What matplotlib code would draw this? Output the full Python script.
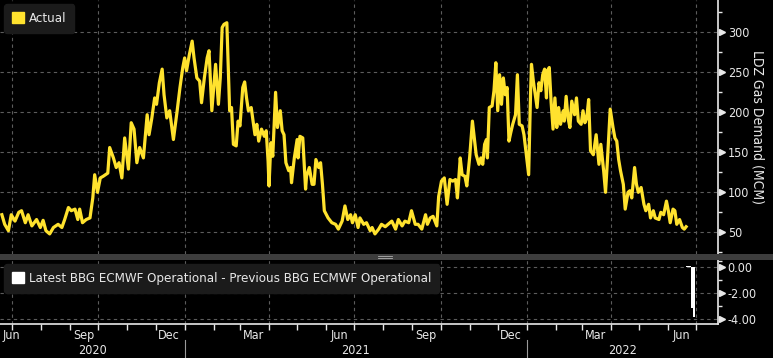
import pandas as pd
import matplotlib
matplotlib.use('Agg')
import matplotlib.pyplot as plt
import matplotlib.transforms as mtransforms
from matplotlib.patches import Patch, Rectangle
from matplotlib.lines import Line2D

plt.rcParams['font.family'] = ['DejaVu Sans']
plt.rcParams['font.stretch'] = 'condensed'

start = pd.Timestamp('2020-06-18')

# LDZ gas demand (MCM): day offset from start, value
demand_day = [2, 5, 9, 12, 16, 20, 23, 27, 30, 34, 39, 43, 46, 49, 53, 57, 62, 66, 69, 73,
              76, 80, 83, 85, 88, 92, 96, 99, 101, 104, 107, 110, 115, 117, 121, 124, 127, 130, 133, 137,
              140, 143, 146, 149, 153, 157, 159, 162, 165, 167, 170, 173, 175, 178, 181, 185, 189, 192, 195, 197,
              199, 202, 205, 207, 210, 213, 215, 218, 221, 223, 226, 228, 230, 233, 235, 237, 239, 242, 245, 247,
              249, 252, 254, 256, 259, 261, 263, 265, 268, 270, 272, 274, 276, 279, 282, 284, 286, 287, 289, 291,
              294, 296, 299, 301, 303, 305, 308, 310, 311, 314, 317, 318, 320, 323, 326, 327, 330, 333, 335, 337,
              340, 342, 344, 346, 350, 354, 358, 361, 365, 368, 371, 374, 376, 379, 382, 384, 388, 391, 395, 397,
              400, 404, 407, 411, 414, 418, 422, 425, 429, 432, 436, 439, 443, 446, 450, 454, 456, 459, 462, 466,
              468, 471, 474, 477, 480, 483, 486, 488, 491, 493, 496, 498, 501, 504, 506, 508, 511, 513, 515, 517,
              519, 520, 522, 525, 527, 529, 531, 533, 535, 537, 539, 541, 543, 545, 547, 550, 552, 554, 557, 559,
              561, 564, 566, 567, 569, 571, 573, 575, 577, 579, 581, 583, 584, 586, 588, 590, 592, 594, 596, 598,
              601, 602, 604, 606, 608, 610, 613, 615, 617, 620, 622, 624, 626, 628, 630, 633, 636, 639, 641, 644,
              646, 648, 651, 654, 656, 658, 660, 662, 665, 667, 670, 672, 674, 677, 679, 681, 684, 687, 689, 692,
              694, 697, 699, 703, 705, 708, 711, 713, 715, 718, 720, 722, 725, 728, 730, 732]
demand_mcm = [72, 60, 52, 72, 64, 75, 77, 62, 72, 58, 66, 56, 65, 52, 48, 56, 60, 56, 66, 81,
              77, 79, 66, 79, 62, 66, 68, 93, 122, 100, 118, 120, 124, 156, 143, 131, 137, 118, 168, 129,
              187, 179, 137, 156, 143, 197, 172, 193, 218, 210, 237, 254, 222, 193, 202, 166, 202, 231, 256, 268,
              252, 272, 289, 268, 243, 239, 212, 243, 268, 277, 202, 231, 260, 210, 243, 306, 310, 312, 202, 206,
              160, 158, 189, 183, 231, 238, 218, 202, 206, 189, 172, 185, 164, 179, 170, 177, 139, 108, 162, 145,
              225, 181, 202, 177, 172, 137, 127, 131, 112, 143, 166, 143, 170, 168, 104, 120, 131, 110, 110, 141,
              131, 137, 110, 77, 68, 62, 60, 54, 64, 83, 66, 72, 62, 72, 56, 68, 60, 62, 52, 56,
              48, 54, 60, 57, 60, 64, 54, 66, 58, 64, 62, 77, 60, 60, 54, 72, 60, 68, 70, 58,
              95, 114, 118, 85, 116, 114, 116, 93, 143, 122, 120, 108, 143, 189, 168, 147, 135, 143, 135, 160,
              166, 143, 206, 208, 227, 262, 202, 247, 210, 243, 222, 231, 164, 175, 185, 197, 247, 185, 183, 172,
              152, 122, 222, 260, 239, 222, 206, 237, 227, 247, 254, 218, 252, 256, 212, 179, 218, 181, 206, 185,
              202, 189, 220, 193, 181, 214, 197, 218, 189, 185, 202, 187, 193, 216, 152, 147, 172, 135, 160, 127,
              100, 139, 204, 181, 168, 164, 141, 127, 110, 79, 100, 102, 93, 131, 110, 100, 106, 85, 77, 85,
              68, 77, 68, 66, 75, 72, 89, 77, 62, 79, 77, 60, 66, 56, 54, 57]

# Latest minus previous BBG ECMWF Operational forecast
diff_day = [732, 733, 734, 735, 736, 737, 738, 739, 740]
diff_val = [0.1, 0.1, 0.1, 0.1, 0.1, -3.1, -3.1, -3.8, -3.8]

month_labels = ['Sep', 'Dec', 'Mar', 'Jun', 'Sep', 'Dec', 'Mar', 'Jun']
month_label_dates = ['2020-09-15', '2020-12-15', '2021-03-15', '2021-06-15',
                     '2021-09-15', '2021-12-15', '2022-03-15', '2022-06-15']
years = ['2020', '2021', '2022']

dates = start + pd.to_timedelta(demand_day, unit='D')
ddates = start + pd.to_timedelta(diff_day, unit='D')

W, H = 773, 358
fg = '#e8e8e8'
grid_kw = dict(color='#5c5c5c', lw=0.8, ls=(0, (3, 3)))
fig = plt.figure(figsize=(W / 100, H / 100), dpi=100, facecolor='black')
ax1 = fig.add_axes([0, 1 - 254 / H, 718 / W, 254 / H], facecolor='black')
ax2 = fig.add_axes([0, 1 - 324 / H, 718 / W, 64 / H], facecolor='black', sharex=ax1)

x0 = start
x1 = start + pd.Timedelta(days=766)
ax1.set_xlim(x0, x1)

ax1.plot(dates, demand_mcm, color='#ffe22e', lw=2.3, solid_joinstyle='round')
ax1.set_ylim(22.9, 340.4)
ax2.bar(ddates, diff_val, width=1.0, color='white', align='edge')
ax2.set_ylim(-4.36, 0.56)

quarters = pd.date_range('2020-07-01', '2022-07-01', freq='QS-JAN')
months = pd.date_range('2020-07-01', '2022-07-01', freq='MS')

for ax, yt, ymin in [(ax1, [50, 100, 150, 200, 250, 300], [25, 75, 125, 175, 225, 275, 325]),
                     (ax2, [0, -2, -4], [0.5, -1, -3])]:
    for s in ['top', 'left', 'bottom']:
        ax.spines[s].set_visible(False)
    ax.spines['right'].set_color(fg)
    ax.spines['right'].set_linewidth(1.2)
    ax.yaxis.tick_right()
    ax.set_yticks(yt)
    ax.set_yticks(ymin, minor=True)
    ax.tick_params(axis='y', which='major', length=0, pad=7, labelsize=9, colors=fg)
    ax.tick_params(axis='y', which='minor', length=3, width=1, colors=fg)
    for v in yt:
        ax.axhline(v, **grid_kw, zorder=0)
    for q in quarters:
        ax.axvline(q, **grid_kw, zorder=0)
    tr = ax.get_yaxis_transform() + mtransforms.ScaledTranslation(3 / 72, 0, fig.dpi_scale_trans)
    ax.plot([1] * len(yt), yt, ls='none', marker='>', ms=5, color=fg, transform=tr, clip_on=False)

ax1.yaxis.set_major_formatter(plt.FormatStrFormatter('%d'))
ax2.yaxis.set_major_formatter(plt.FormatStrFormatter('%.2f'))
ax1.set_ylabel('LDZ Gas Demand (MCM)', rotation=270, color=fg, fontsize=10, labelpad=11)
ax1.yaxis.set_label_position('right')

ax1.tick_params(axis='x', which='both', length=0, labelbottom=False)
ax2.spines['bottom'].set_visible(True)
ax2.spines['bottom'].set_color(fg)
ax2.spines['bottom'].set_linewidth(1.2)
ax2.set_xticks(months)
ax2.tick_params(axis='x', length=4, width=1, colors=fg, labelbottom=False)

for lab, d in zip(month_labels, month_label_dates):
    ax2.annotate(lab, xy=(pd.Timestamp(d), 0), xycoords=('data', 'axes fraction'),
                 xytext=(0, -8), textcoords='offset points', ha='center', va='center',
                 color=fg, fontsize=9)
ax2.annotate('Jun', xy=(0, 0), xycoords='axes fraction', xytext=(2, -8),
             textcoords='offset points', ha='left', va='center', color=fg, fontsize=9)

year_edges = [x0, pd.Timestamp('2021-01-01'), pd.Timestamp('2022-01-01'), x1]
for i, y in enumerate(years):
    mid = year_edges[i] + (year_edges[i + 1] - year_edges[i]) / 2
    ax2.annotate(y, xy=(mid, 0), xycoords=('data', 'axes fraction'),
                 xytext=(0, -19), textcoords='offset points', ha='center', va='center',
                 color=fg, fontsize=9)
for d in year_edges[1:3]:
    ax2.plot([d, d], [-0.25, -0.6], color='#9a9a9a', lw=0.8,
             transform=ax2.get_xaxis_transform(), clip_on=False)

# separator between panels
fig.add_artist(Rectangle((0, 1 - 260 / H), 1, 6 / H, transform=fig.transFigure,
                         color='#3d3d3d', lw=0))
for yy in [256.3, 258.2]:
    fig.add_artist(Line2D([378 / W, 392 / W], [1 - yy / H] * 2, color='#b0b0b0', lw=0.6))

leg_kw = dict(loc='upper left', frameon=True, facecolor='#1b1b1b', edgecolor='#1b1b1b',
              fontsize=9.5, labelcolor=fg, handlelength=0.9, handleheight=0.9,
              handletextpad=0.4, borderpad=0.6, borderaxespad=0, fancybox=True, framealpha=1)
l1 = ax1.legend([Patch(color='#ffe22e')], ['Actual'],
                bbox_to_anchor=(4 / 718, 1 - 4 / 254), **leg_kw)
l2 = ax2.legend([Patch(color='white')], ['Latest BBG ECMWF Operational - Previous BBG ECMWF Operational'],
                bbox_to_anchor=(4 / 718, 1 - 4 / 64), **leg_kw)

fig.savefig('out.png', dpi=100, facecolor='black')
